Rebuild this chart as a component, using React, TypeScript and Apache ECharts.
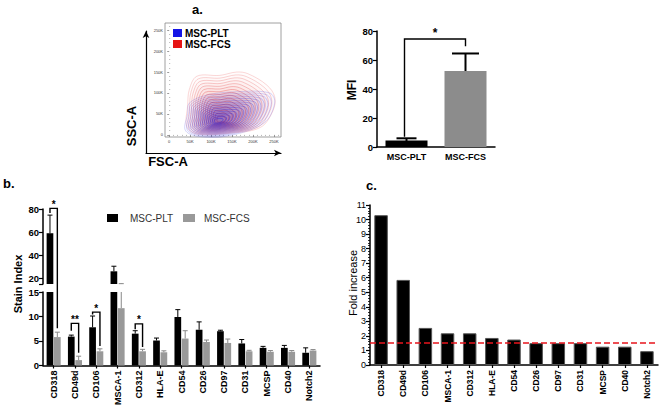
import React, { useEffect, useRef } from 'react';
import * as echarts from 'echarts';

const FONT = '"Liberation Sans", Arial, Helvetica, sans-serif';

// ---------- panel a (flow cytometry contour) ----------
const flowTicks = [0, 50, 100, 150, 200, 250];
const flowTickLabels = ['0', '50K', '100K', '150K', '200K', '250K'];
const flowMinorTicks = [10, 20, 30, 40, 60, 70, 80, 90, 110, 120, 130, 140, 160, 170, 180, 190, 210, 220, 230, 240, 260];
const flowRedOutline = [[42, 20], [44, 70], [48, 108], [66, 140], [121, 142], [161, 150], [188, 146], [233, 119], [252, 91], [248, 58], [218, 18], [145, 4], [66, 2]];
const flowRedCenter = [122, 34];
const flowBlueOutline = [[38, 12], [44, 50], [48, 76], [90, 95], [161, 103], [240, 100], [252, 76], [226, 28], [137, -3], [66, -3]];
const flowBlueCenter = [115, 32];
const contourLevels = [1, 0.94, 0.88, 0.82, 0.76, 0.7, 0.64, 0.58, 0.52, 0.46, 0.4, 0.34, 0.28, 0.22, 0.16, 0.1];

// ---------- panel a (MFI) ----------
const mfiCategories = ['MSC-PLT', 'MSC-FCS'];
const mfiValues = [4.5, 52.5];
const mfiErrTop = [6, 64.5];

// ---------- panel b (stain index) ----------
const markers = ['CD318', 'CD49d', 'CD106', 'MSCA-1', 'CD312', 'HLA-E', 'CD54', 'CD26', 'CD97', 'CD31', 'MCSP', 'CD40', 'Notch2'];
const pltStain = [59, 5.9, 7.8, 26, 6.5, 5.1, 9.9, 7.3, 7.0, 4.5, 3.6, 3.6, 2.6];
const pltStainErr = [74.7, 6.2, 10.1, 30.4, 7.1, 5.6, 11.4, 8.9, 7.2, 5.3, 3.9, 4.1, 3.6];
const fcsStain = [5.8, 1.1, 2.9, 11.7, 2.9, 2.7, 5.5, 4.8, 4.6, 2.9, 2.8, 2.8, 3.05];
const fcsStainErr = [6.8, 1.9, 3.4, 15.3, 3.3, 3.0, 7.1, 5.2, 5.4, 3.1, 3.05, 3.05, 3.25];
const stainBreak = 15;
const stainUpperTicks = [15, 20, 40, 60, 80];
const stainUpperLabels = [20, 40, 60, 80];
const stainBrackets = [
  { cat: 0, top: 80.5, left: 76.5, right: 7.6, label: '*' },
  { cat: 1, top: 8.6, left: 7.1, right: 2.6, label: '**' },
  { cat: 2, top: 10.9, left: 10.4, right: 4.0, label: '*' },
  { cat: 4, top: 8.5, left: 7.4, right: 3.8, label: '*' },
];
const mfiBracket = { top: 74.5, left: 7, right: 69.5, label: '*' };

// ---------- panel c (fold increase) ----------
const foldIncrease = [10.3, 5.85, 2.55, 2.18, 2.18, 1.86, 1.75, 1.5, 1.5, 1.5, 1.26, 1.26, 0.95];
const foldThreshold = 1.5;

const BAR_OFF = 3.68;

function contourRender(outline: number[][], center: number[], rgb: string) {
  return (params: any, api: any) => {
    const s = api.value(0);
    const n = contourLevels.length - 1;
    const k = params.dataIndex / n;
    const pts = outline.map(([x, y]) => api.coord([center[0] + (x - center[0]) * s, center[1] + (y - center[1]) * s]));
    return {
      type: 'polygon',
      silent: true,
      shape: { points: pts, smooth: 0.35 },
      style: { fill: `rgba(${rgb},${0.015 + 0.035 * k})`, stroke: `rgba(${rgb},${0.3 + 0.5 * k})`, lineWidth: 0.6 },
    };
  };
}

function errRender(off: number, lo: number, hi: number, color: string, capHalf: number, lw: number) {
  return (params: any, api: any) => {
    const cat = api.value(0);
    const v = api.value(1);
    const t = api.value(2);
    const a = Math.max(v, lo);
    const b = Math.min(t, hi);
    if (!(b > a)) return { type: 'group', children: [] };
    const p1 = api.coord([cat, a]);
    const p2 = api.coord([cat, b]);
    const x = p1[0] + off;
    const ch: any[] = [{ type: 'line', shape: { x1: x, y1: p1[1], x2: x, y2: p2[1] }, style: { stroke: color, lineWidth: lw } }];
    if (t <= hi) ch.push({ type: 'line', shape: { x1: x - capHalf, y1: p2[1], x2: x + capHalf, y2: p2[1] }, style: { stroke: color, lineWidth: lw } });
    return { type: 'group', children: ch };
  };
}

const mfiCapHalf = [10, 13.5];

export default function App() {
  const ref = useRef<HTMLDivElement>(null);
  useEffect(() => {
    if (!ref.current) return;
    const chart = echarts.init(ref.current, undefined, { renderer: 'svg' });
    const axisBlack = { show: true, lineStyle: { color: '#000', width: 1.5 } };
    const tickBlack = { show: true, length: 3, lineStyle: { color: '#000', width: 1.2 } };
    const boldLab = { color: '#000', fontFamily: FONT, fontWeight: 'bold' as const };

    const staticGraphics: any[] = [
      { type: 'text', x: 192, y: 3, style: { text: 'a.', font: `bold 13px ${FONT}`, fill: '#000' } },
      { type: 'text', x: 3, y: 177, style: { text: 'b.', font: `bold 13px ${FONT}`, fill: '#000' } },
      { type: 'text', x: 366, y: 179, style: { text: 'c.', font: `bold 13px ${FONT}`, fill: '#000' } },
      { type: 'text', x: 131, y: 126, rotation: Math.PI / 2, style: { text: 'SSC-A', font: `bold 13px ${FONT}`, fill: '#000', textAlign: 'center', textVerticalAlign: 'middle' } },
      { type: 'text', x: 168, y: 161, style: { text: 'FSC-A', font: `bold 13px ${FONT}`, fill: '#000', textAlign: 'center', textVerticalAlign: 'middle' } },
      { type: 'text', x: 352, y: 90, rotation: Math.PI / 2, style: { text: 'MFI', font: `bold 12px ${FONT}`, fill: '#000', textAlign: 'center', textVerticalAlign: 'middle' } },
      { type: 'text', x: 18, y: 284, rotation: Math.PI / 2, style: { text: 'Stain Index', font: `bold 11px ${FONT}`, fill: '#000', textAlign: 'center', textVerticalAlign: 'middle' } },
      { type: 'text', x: 353, y: 283, rotation: Math.PI / 2, style: { text: 'Fold increase', font: `11px ${FONT}`, fill: '#000', textAlign: 'center', textVerticalAlign: 'middle' } },
      { type: 'rect', shape: { x: 173, y: 29, width: 9, height: 8 }, style: { fill: '#1414e6' } },
      { type: 'text', x: 185, y: 33, style: { text: 'MSC-PLT', font: `bold 10px ${FONT}`, fill: '#000', textVerticalAlign: 'middle' } },
      { type: 'rect', shape: { x: 173, y: 40, width: 9, height: 8 }, style: { fill: '#e61414' } },
      { type: 'text', x: 185, y: 44, style: { text: 'MSC-FCS', font: `bold 10px ${FONT}`, fill: '#000', textVerticalAlign: 'middle' } },
      { type: 'rect', shape: { x: 107, y: 214, width: 11, height: 8 }, style: { fill: '#000' } },
      { type: 'text', x: 130, y: 218, style: { text: 'MSC-PLT', font: `10px ${FONT}`, fill: '#333', textVerticalAlign: 'middle' } },
      { type: 'rect', shape: { x: 183, y: 214, width: 12, height: 8 }, style: { fill: '#999' } },
      { type: 'text', x: 204, y: 218, style: { text: 'MSC-FCS', font: `10px ${FONT}`, fill: '#333', textVerticalAlign: 'middle' } },
    ];

    const option: any = {
      animation: false,
      backgroundColor: '#fff',
      grid: [
        { left: 165, top: 23, width: 116, height: 114, show: true, borderColor: '#888', borderWidth: 0.8, backgroundColor: 'transparent' },
        { left: 146, top: 31, width: 135, height: 122 },
        { left: 377, top: 31, width: 118, height: 116 },
        { left: 43, top: 209, width: 277, height: 75 },
        { left: 43, top: 292, width: 277, height: 74 },
        { left: 370, top: 205, width: 288, height: 160 },
      ],
      xAxis: [
        {
          gridIndex: 0, type: 'value', min: -10, max: 267, position: 'bottom',
          axisLine: { show: false }, splitLine: { show: false },
          axisTick: { show: true, customValues: flowTicks, length: 2, lineStyle: { color: '#555', width: 0.6 } },
          axisLabel: { customValues: flowTicks, formatter: (v: number) => flowTickLabels[flowTicks.indexOf(v)] ?? '', fontSize: 4, margin: 2, color: '#333', fontFamily: FONT },
        },
        {
          gridIndex: 0, type: 'value', min: -10, max: 267, position: 'bottom',
          axisLine: { show: false }, splitLine: { show: false }, axisLabel: { show: false },
          axisTick: { show: true, customValues: flowMinorTicks, length: 1, lineStyle: { color: '#666', width: 0.5 } },
        },
        {
          gridIndex: 1, type: 'value', min: 0, max: 1, position: 'bottom',
          axisLine: { show: true, symbol: ['none', 'arrow'], symbolSize: [5, 7], lineStyle: { color: '#000', width: 1.2 } },
          axisTick: { show: false }, axisLabel: { show: false }, splitLine: { show: false },
        },
        {
          gridIndex: 2, type: 'category', data: mfiCategories,
          axisLine: axisBlack, axisTick: { show: false },
          axisLabel: { ...boldLab, fontSize: 9, margin: 5, interval: 0 },
        },
        {
          gridIndex: 3, type: 'category', data: markers, show: false,
        },
        {
          gridIndex: 4, type: 'category', data: markers,
          axisLine: axisBlack, axisTick: { ...tickBlack, alignWithLabel: true },
          axisLabel: { ...boldLab, fontSize: 9, rotate: 90, interval: 0, margin: 5 },
        },
        {
          gridIndex: 5, type: 'category', data: markers,
          axisLine: axisBlack, axisTick: { ...tickBlack, alignWithLabel: true },
          axisLabel: { ...boldLab, fontSize: 8.5, rotate: 90, interval: 0, margin: 5 },
        },
      ],
      yAxis: [
        {
          gridIndex: 0, type: 'value', min: -5, max: 267,
          axisLine: { show: false }, splitLine: { show: false },
          axisTick: { show: true, customValues: flowTicks, length: 2, lineStyle: { color: '#555', width: 0.6 } },
          axisLabel: { customValues: flowTicks, formatter: (v: number) => flowTickLabels[flowTicks.indexOf(v)] ?? '', fontSize: 4, margin: 2, color: '#333', fontFamily: FONT },
        },
        {
          gridIndex: 0, type: 'value', min: -5, max: 267,
          axisLine: { show: false }, splitLine: { show: false }, axisLabel: { show: false },
          axisTick: { show: true, customValues: flowMinorTicks, length: 1, lineStyle: { color: '#666', width: 0.5 } },
        },
        {
          gridIndex: 1, type: 'value', min: 0, max: 1,
          axisLine: { show: true, symbol: ['none', 'arrow'], symbolSize: [5, 7], lineStyle: { color: '#000', width: 1.2 } },
          axisTick: { show: false }, axisLabel: { show: false }, splitLine: { show: false },
        },
        {
          gridIndex: 2, type: 'value', min: 0, max: 80, interval: 20,
          axisLine: axisBlack, axisTick: { ...tickBlack, length: 4 }, splitLine: { show: false },
          axisLabel: { ...boldLab, fontSize: 9.5, margin: 4 },
        },
        {
          gridIndex: 3, type: 'value', min: stainBreak, max: 80,
          axisLine: axisBlack, splitLine: { show: false },
          axisTick: { ...tickBlack, customValues: stainUpperTicks, length: 4 },
          axisLabel: { ...boldLab, fontSize: 9.5, margin: 4, customValues: stainUpperLabels },
        },
        {
          gridIndex: 4, type: 'value', min: 0, max: stainBreak, interval: 5,
          axisLine: axisBlack, axisTick: { ...tickBlack, length: 4 }, splitLine: { show: false },
          axisLabel: { ...boldLab, fontSize: 9.5, margin: 4 },
        },
        {
          gridIndex: 5, type: 'value', min: 0, max: 11, interval: 1,
          axisLine: axisBlack, axisTick: { ...tickBlack, length: 4 }, splitLine: { show: false },
          minorTick: { show: true, splitNumber: 5, length: 2, lineStyle: { color: '#000', width: 0.8 } },
          axisLabel: { color: '#000', fontFamily: FONT, fontSize: 9, margin: 4 },
        },
      ],
      series: [
        {
          type: 'custom', name: 'MSC-FCS contour', xAxisIndex: 0, yAxisIndex: 0, silent: true,
          data: contourLevels.map((s) => [s, 0]),
          renderItem: contourRender(flowRedOutline, flowRedCenter, '225,40,40'),
        },
        {
          type: 'custom', name: 'MSC-PLT contour', xAxisIndex: 0, yAxisIndex: 0, silent: true,
          data: contourLevels.map((s) => [s, 0]),
          renderItem: contourRender(flowBlueOutline, flowBlueCenter, '40,40,225'),
        },
        {
          type: 'bar', name: 'MFI', xAxisIndex: 3, yAxisIndex: 3, barWidth: 42,
          data: mfiValues.map((v, i) => ({ value: v, itemStyle: { color: i === 0 ? '#000' : '#8c8c8c' } })),
        },
        {
          type: 'custom', name: 'MFI err', xAxisIndex: 3, yAxisIndex: 3,
          data: mfiValues.map((v, i) => [i, v, mfiErrTop[i]]),
          encode: { x: 0, y: [1, 2] },
          renderItem: (params: any, api: any) => {
            const i = api.value(0);
            const p1 = api.coord([i, api.value(1)]);
            const p2 = api.coord([i, api.value(2)]);
            const h = mfiCapHalf[params.dataIndex];
            return {
              type: 'group', children: [
                { type: 'line', shape: { x1: p1[0], y1: p1[1] + 2, x2: p2[0], y2: p2[1] }, style: { stroke: '#000', lineWidth: 2 } },
                { type: 'line', shape: { x1: p2[0] - h, y1: p2[1], x2: p2[0] + h, y2: p2[1] }, style: { stroke: '#000', lineWidth: 2 } },
              ],
            };
          },
        },
        {
          type: 'bar', name: 'MSC-PLT', xAxisIndex: 4, yAxisIndex: 4, barWidth: 6.7, barGap: '10%',
          itemStyle: { color: '#000' }, data: pltStain.map((v) => (v > stainBreak ? v : '-')),
        },
        {
          type: 'bar', name: 'MSC-FCS', xAxisIndex: 4, yAxisIndex: 4, barWidth: 6.7, barGap: '10%',
          itemStyle: { color: '#999' }, data: fcsStain.map((v) => (v > stainBreak ? v : '-')),
        },
        {
          type: 'bar', name: 'MSC-PLT', xAxisIndex: 5, yAxisIndex: 5, barWidth: 6.7, barGap: '10%',
          itemStyle: { color: '#000' }, data: pltStain.map((v) => Math.min(v, stainBreak)),
        },
        {
          type: 'bar', name: 'MSC-FCS', xAxisIndex: 5, yAxisIndex: 5, barWidth: 6.7, barGap: '10%',
          itemStyle: { color: '#999' }, data: fcsStain.map((v) => Math.min(v, stainBreak)),
        },
        {
          type: 'custom', name: 'PLT err upper', xAxisIndex: 4, yAxisIndex: 4, encode: { x: 0, y: [1, 2] },
          data: markers.map((_, i) => [i, pltStain[i], pltStainErr[i]]),
          renderItem: errRender(-BAR_OFF, stainBreak, 80, '#000', 2.5, 1),
        },
        {
          type: 'custom', name: 'FCS err upper', xAxisIndex: 4, yAxisIndex: 4, encode: { x: 0, y: [1, 2] },
          data: markers.map((_, i) => [i, fcsStain[i], fcsStainErr[i]]),
          renderItem: errRender(BAR_OFF, stainBreak, 80, '#888', 2.5, 1),
        },
        {
          type: 'custom', name: 'PLT err lower', xAxisIndex: 5, yAxisIndex: 5, encode: { x: 0, y: [1, 2] },
          data: markers.map((_, i) => [i, pltStain[i], pltStainErr[i]]),
          renderItem: errRender(-BAR_OFF, 0, stainBreak, '#000', 2.5, 1),
        },
        {
          type: 'custom', name: 'FCS err lower', xAxisIndex: 5, yAxisIndex: 5, encode: { x: 0, y: [1, 2] },
          data: markers.map((_, i) => [i, fcsStain[i], fcsStainErr[i]]),
          renderItem: errRender(BAR_OFF, 0, stainBreak, '#888', 2.5, 1),
        },
        {
          type: 'bar', name: 'Fold increase', xAxisIndex: 6, yAxisIndex: 6, barWidth: 13.5,
          itemStyle: { color: '#000', borderColor: '#555', borderWidth: 1 },
          data: foldIncrease,
          markLine: {
            silent: true, symbol: ['none', 'none'], label: { show: false },
            lineStyle: { color: '#e8141c', type: [6, 3], width: 1.5 },
            data: [{ yAxis: foldThreshold }],
          },
        },
      ],
      graphic: staticGraphics,
    };

    chart.setOption(option);

    const px = (grid: number, cat: number, v: number) => chart.convertToPixel({ gridIndex: grid } as any, [cat, v]) as number[];
    const stainPx = (cat: number, v: number) => (v >= stainBreak ? px(3, cat, v) : px(4, cat, v));
    const bracketGraphics: any[] = [];
    stainBrackets.forEach((b) => {
      const xl = stainPx(b.cat, b.left)[0] - BAR_OFF;
      const xr = stainPx(b.cat, b.left)[0] + BAR_OFF;
      const yTop = stainPx(b.cat, b.top)[1];
      const yL = stainPx(b.cat, b.left)[1];
      const yR = stainPx(b.cat, b.right)[1];
      bracketGraphics.push({ type: 'polyline', shape: { points: [[xl, yL], [xl, yTop], [xr, yTop], [xr, yR]] }, style: { stroke: '#000', lineWidth: 1.4, fill: 'none' } });
      bracketGraphics.push({ type: 'text', x: (xl + xr) / 2, y: yTop - 4, style: { text: b.label, font: `bold 10px ${FONT}`, fill: '#000', textAlign: 'center', textVerticalAlign: 'middle' } });
    });
    {
      const pL = px(2, 0, mfiBracket.left);
      const pR = px(2, 1, mfiBracket.right);
      const yTop = px(2, 0, mfiBracket.top)[1];
      const xl = pL[0] - 2;
      const xr = pR[0];
      bracketGraphics.push({ type: 'polyline', shape: { points: [[xl, pL[1]], [xl, yTop], [xr, yTop], [xr, pR[1]]] }, style: { stroke: '#000', lineWidth: 1.4, fill: 'none' } });
      bracketGraphics.push({ type: 'text', x: (xl + xr) / 2, y: yTop - 6, style: { text: mfiBracket.label, font: `bold 12px ${FONT}`, fill: '#000', textAlign: 'center', textVerticalAlign: 'middle' } });
    }
    chart.setOption({ graphic: [...staticGraphics, ...bracketGraphics] });

    return () => chart.dispose();
  }, []);
  return <div ref={ref} style={{ position: 'fixed', left: 0, top: 0, width: 660, height: 408, background: '#fff' }} />;
}
